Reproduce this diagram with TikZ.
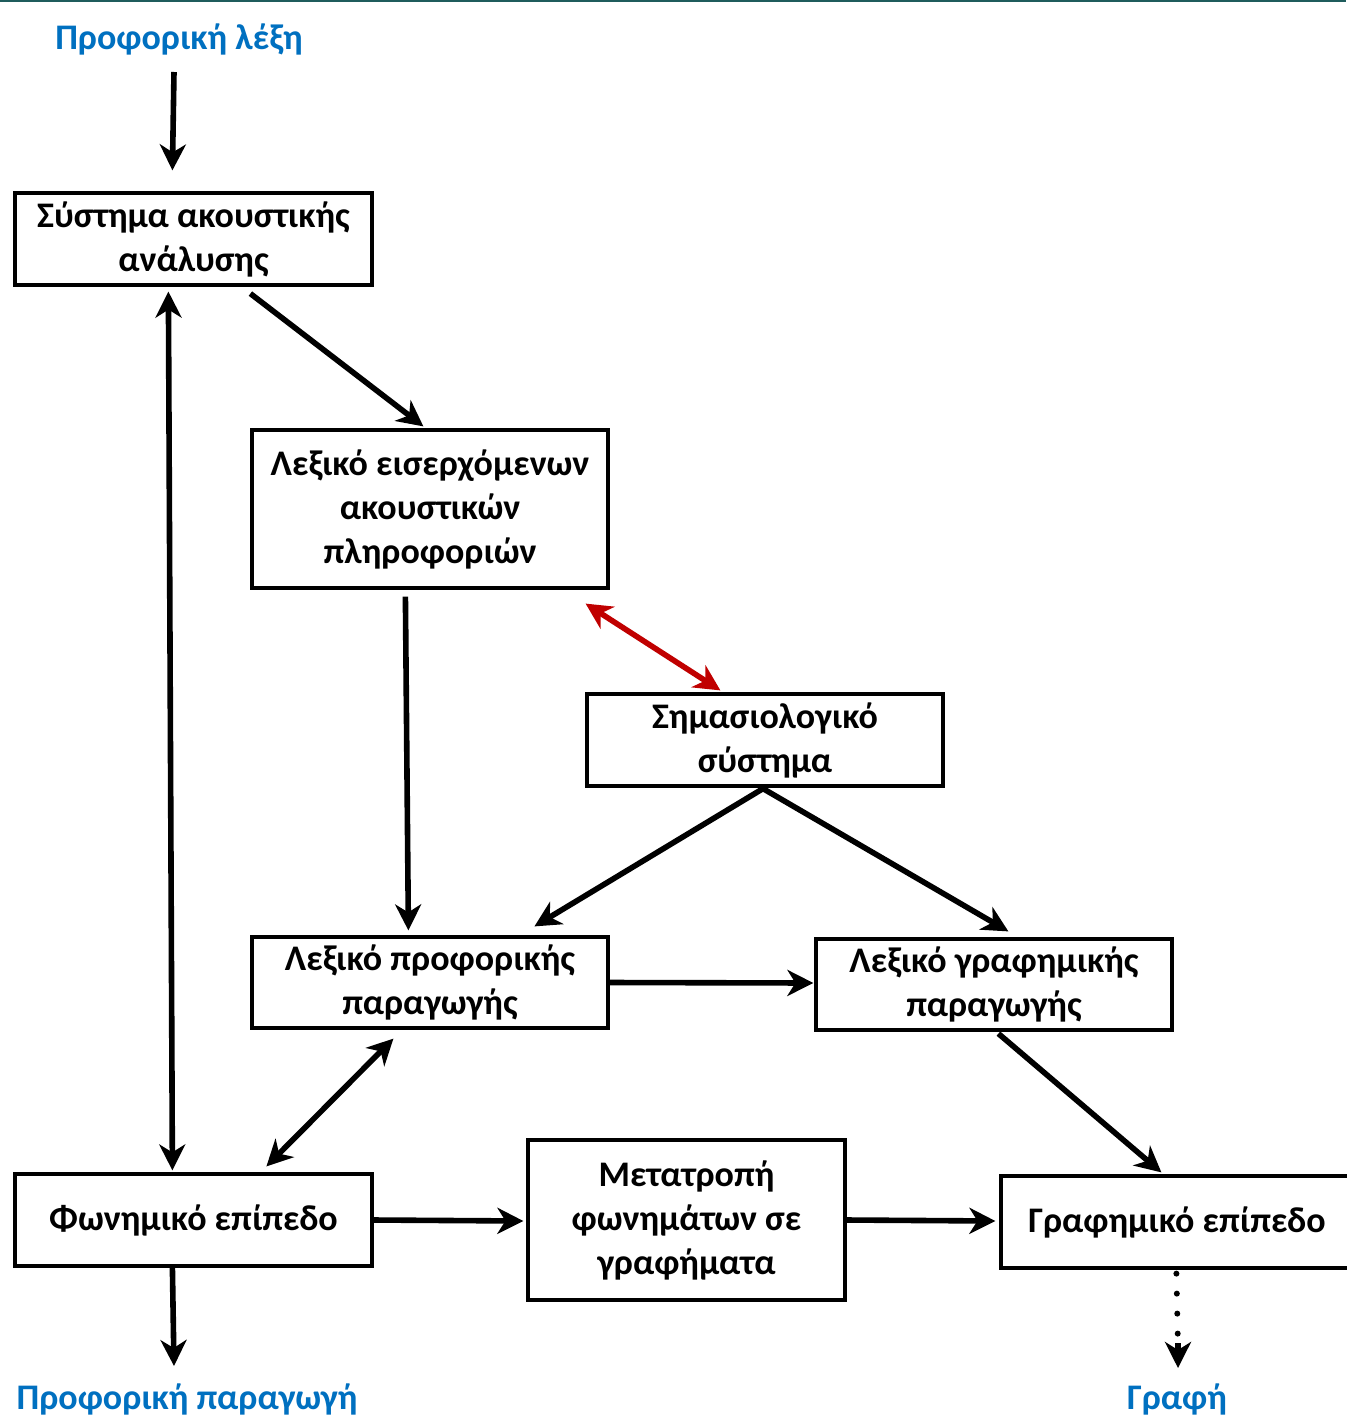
\documentclass[tikz,border=0pt]{standalone}
\usepackage{fontspec}
\setmainfont{Carlito}
\usetikzlibrary{arrows.meta,calc}
\definecolor{blueC}{HTML}{0070C0}
\definecolor{redC}{HTML}{C00000}
\definecolor{topC}{HTML}{1F5C5C}
\begin{document}
\begin{tikzpicture}[x=0.5pt,y=-0.5pt,
 box/.style={draw, line width=1.6pt, align=center, inner sep=0pt, font=\bfseries\fontsize{18}{22}\selectfont},
 tip/.tip={Stealth[length=13pt,width=13pt,inset=4pt]},
 arr/.style={line width=2.8pt, -tip},
 darr/.style={line width=2.8pt, tip-tip},
 lbl/.style={text=blueC, inner sep=0pt, font=\bfseries\fontsize{18}{22}\selectfont}]
\useasboundingbox (0,0) rectangle (1346,1418);
\fill[white] (0,0) rectangle (1346,1418);
\draw[topC, line width=1.2pt] (0,1) -- (1346,1);

\node[lbl] (l1) at (179,39) {Προφορική λέξη};
\node[lbl] (l2) at (187,1399) {Προφορική παραγωγή};
\node[lbl] (l3) at (1177,1399) {Γραφή};

\node[box, minimum width=178.5pt, minimum height=46pt] (b1) at (193.5,239) {Σύστημα ακουστικής\\ανάλυσης};
\node[box, minimum width=178pt, minimum height=79pt] (b2) at (430,509) {Λεξικό εισερχόμενων\\ακουστικών\\πληροφοριών};
\node[box, minimum width=178pt, minimum height=46pt] (b3) at (765,740) {Σημασιολογικό\\σύστημα};
\node[box, minimum width=178pt, minimum height=45.5pt] (b4) at (430,982.5) {Λεξικό προφορικής\\παραγωγής};
\node[box, minimum width=178pt, minimum height=45.5pt] (b5) at (994,984.5) {Λεξικό γραφημικής\\παραγωγής};
\node[box, minimum width=178.5pt, minimum height=46pt] (b6) at (193.5,1220) {Φωνημικό επίπεδο};
\node[box, minimum width=158.5pt, minimum height=80pt] (b7) at (686.5,1220) {Μετατροπή\\φωνημάτων σε\\γραφήματα};
\node[box, minimum width=176pt, minimum height=46pt] (b8) at (1177,1222) {Γραφημικό επίπεδο};

\draw[arr] ($(l1)+(-5,33)$) -- ($(b1.north west)+(159,-21)$);
\draw[arr] ($(b1.south west)+(237,7)$) -- ($(b2.north west)+(173,-2)$);
\draw[darr] ($(b1.south west)+(155,5)$) -- ($(b6.north west)+(159,-2)$);
\draw[arr] ($(b2.south west)+(155,7)$) -- ($(b4.north west)+(158,-5)$);
\draw[darr, redC] ($(b2.south east)+(-24,14)$) -- ($(b3.north west)+(135,-2)$);
\draw[arr] ($(b3.south)+(-2,1)$) -- ($(b4.north west)+(284,-9)$);
\draw[arr] ($(b3.south)+(-2,1)$) -- ($(b5.north west)+(194,-6)$);
\draw[arr] ($(b4.east)+(-1,0)$) -- ($(b5.west)+(-1,-1.5)$);
\draw[darr] ($(b4.south west)+(143,9)$) -- ($(b6.north west)+(253,-6)$);
\draw[arr] ($(b5.south west)+(184,2)$) -- ($(b8.north west)+(162,-2)$);
\draw[arr] (b6.east) -- ($(b7.west)+(-3,1)$);
\draw[arr] (b7.east) -- ($(b8.west)+(-4,-1)$);
\draw[arr] ($(b6.south west)+(159,0)$) -- ($(l2)+(-13,-33)$);
\draw[line width=3pt, line cap=round, dash pattern=on 0pt off 10pt] ($(b8.south west)+(177,4)$) -- ($(l3)+(1,-52)$);
\draw[line width=2.8pt, -tip] ($(l3)+(1,-56)$) -- ($(l3)+(1,-31)$);
\end{tikzpicture}
\end{document}
